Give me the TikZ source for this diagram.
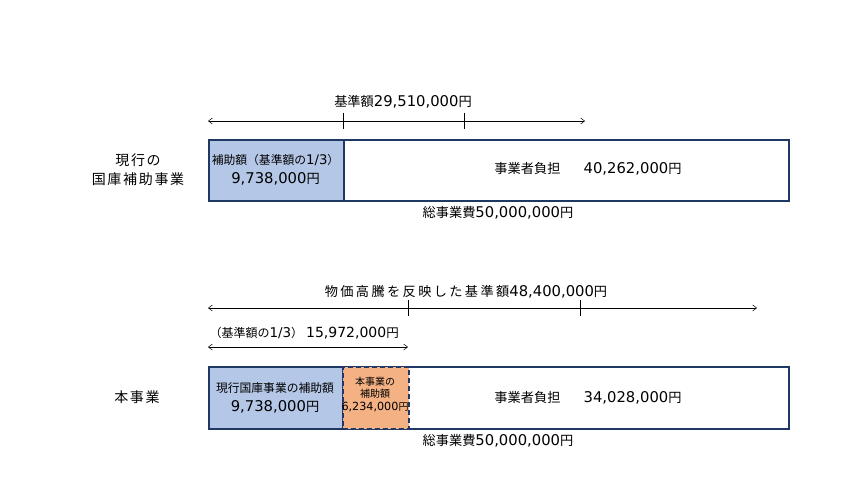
\documentclass[tikz,border=0pt]{standalone}
\usepackage{fontspec}
\setmainfont{Noto Sans CJK JP}
\newfontfamily\cifra{DejaVu Sans}[Scale=1.12]
\newcommand{\cif}[1]{{\cifra #1}}
\usetikzlibrary{arrows.meta}

\definecolor{marco}{HTML}{1F3864}
\definecolor{azul}{HTML}{B4C7E7}
\definecolor{naranja}{HTML}{F4B183}

\begin{document}
\begin{tikzpicture}[x=1pt, y=-1pt, font=\fontsize{13.2}{16}\selectfont,
	barra/.style={draw=marco, line width=1.6pt, anchor=north west, inner sep=0pt},
	flecha/.style={{Straight Barb[length=4pt,width=6pt]}-{Straight Barb[length=4pt,width=6pt]}, line width=0.5pt},
	chico/.style={font=\fontsize{11.8}{13}\selectfont},
	mini/.style={font=\fontsize{10}{12.5}\selectfont, align=center},
	ancho/.style={font=\fontsize{14}{19}\selectfont\addfontfeature{LetterSpace=12}}]
		\useasboundingbox (0,0) rectangle (853,480);
		% Fila superior: proyecto actual
		\node[ancho, align=center] (et1) at (138,170) {現行の\\国庫補助事業};
		\node[barra, fill=white, minimum width=580, minimum height=61] (total1) at (208,139) {};
		\node[barra, fill=azul, minimum width=135, minimum height=61] (sub1) at (208,139) {};
		\node[chico] (sub1a) at (275.5,160) {補助額（基準額の\cif{1/3}）};
		\node (sub1b) at (275.5,179) {\cif{9,738,000}円};
		\node (resto1) at (588,169) {事業者負担　\hspace{10pt}\cif{40,262,000}円};
		\node (tot1) at (498,213) {総事業費\cif{50,000,000}円};
		% Flecha del monto base
		\coordinate (a1) at (208,121);
		\coordinate (b1) at (585,121);
		\coordinate (m1) at (343,121);
		\coordinate (n1) at (464,121);
		\draw[flecha] (a1) -- (b1);
		\draw[line width=0.5pt] ([yshift=-8]m1) -- ([yshift=8]m1) ([yshift=-8]n1) -- ([yshift=8]n1);
		\node (base1) at (403,102) {基準額\cif{29,510,000}円};
		% Fila inferior: este proyecto
		\node[ancho] (et2) at (137,397) {本事業};
		\node (base2) at (466,292) {\addfontfeature{LetterSpace=18}物価高騰を反映した基準額\cif{48,400,000}円};
		\coordinate (a2) at (208,308);
		\coordinate (b2) at (757,308);
		\coordinate (m2) at (408,308);
		\coordinate (n2) at (580,308);
		\draw[flecha] (a2) -- (b2);
		\draw[line width=0.5pt] ([yshift=-8]m2) -- ([yshift=8]m2) ([yshift=-8]n2) -- ([yshift=8]n2);
		\node[anchor=west, font=\fontsize{12.5}{14}\selectfont] (tercio) at (206,333)
			{{\fontsize{12}{13}\selectfont（基準額の\cif{1/3}）}\hspace{3pt}\cif{15,972,000}円};
		\coordinate (a3) at (208,347);
		\coordinate (b3) at (408,347);
		\draw[flecha] (a3) -- (b3);
		\node[barra, fill=white, minimum width=580, minimum height=62] (total2) at (208,366) {};
		\node[barra, fill=azul, minimum width=134, minimum height=62] (sub2) at (208,366) {};
		\node[barra, fill=naranja, dash pattern=on 5pt off 3pt, minimum width=66, minimum height=62] (nuevo) at (342,366) {};
		\node[chico] (sub2a) at (275,388) {現行国庫事業の補助額};
		\node (sub2b) at (275,407) {\cif{9,738,000}円};
		\node[mini] (nuevoa) at (375,394) {本事業の\\補助額\\\cif{6,234,000}円};
		\node (resto2) at (588,398) {事業者負担　\hspace{10pt}\cif{34,028,000}円};
		\node (tot2) at (498,441) {総事業費\cif{50,000,000}円};
	\end{tikzpicture}
\end{document}
